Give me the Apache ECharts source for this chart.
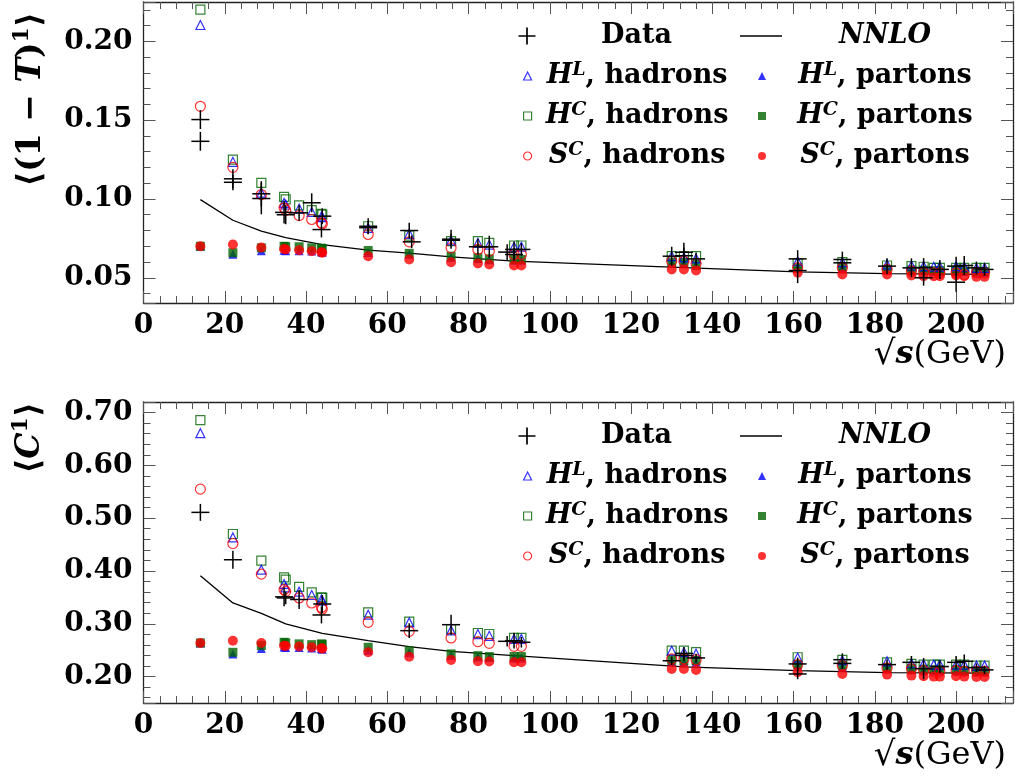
<!DOCTYPE html>
<html><head><meta charset="utf-8">
<script src="https://cdn.jsdelivr.net/npm/echarts@6/dist/echarts.min.js"></script>
<style>html,body{margin:0;padding:0;background:#fff}#c{width:1015px;height:781px}</style>
</head><body><div id="c"></div>
<script>
// ---------- data ----------
const energies = [14, 22, 29, 34.6, 35, 38.3, 41.4, 43.8, 44, 55.3, 65.4, 75.7, 82.3, 85.1, 91.2, 93, 130, 133, 136, 161, 172, 183, 189, 192, 194.5, 196, 200, 202, 205, 207];

// <(1-T)^1>
const thrustHLhad = [.2104,.1236,.1040,.0975,.0965,.0939,.0918,.0890,.0885,.0817,.0779,.0737,.0722,.0711,.0697,.0697,.0637,.0630,.0623,.0605,.0600,.0585,.0578,.0574,.0570,.0570,.0574,.0570,.0563,.0563];
const thrustHChad = [.2201,.1250,.1102,.1014,.0997,.0960,.0929,.0905,.0901,.0827,.0768,.0732,.0732,.0722,.0705,.0705,.0637,.0637,.0637,.0591,.0599,.0578,.0574,.0570,.0563,.0563,.0563,.0563,.0563,.0563];
const thrustSChad = [.1588,.1201,.1028,.0944,.0929,.0895,.0870,.0849,.0843,.0775,.0728,.0690,.0680,.0669,.0648,.0648,.0605,.0605,.0590,.0563,.0563,.0553,.0542,.0532,.0532,.0532,.0532,.0520,.0532,.0532];
const thrustHLpar = [.0700,.0650,.0672,.0675,.0672,.0672,.0670,.0665,.0662,.0660,.0650,.0630,.0622,.0615,.0612,.0612,.0595,.0595,.0580,.0560,.0565,.0550,.0548,.0545,.0540,.0540,.0540,.0538,.0535,.0535];
const thrustHCpar = [.0700,.0659,.0690,.0700,.0698,.0697,.0690,.0688,.0684,.0673,.0655,.0637,.0627,.0620,.0616,.0616,.0599,.0599,.0580,.0563,.0570,.0553,.0550,.0548,.0545,.0545,.0545,.0542,.0540,.0540];
const thrustSCpar = [.0700,.0711,.0692,.0683,.0680,.0675,.0669,.0662,.0659,.0637,.0616,.0599,.0591,.0584,.0578,.0578,.0553,.0553,.0547,.0532,.0521,.0521,.0515,.0510,.0510,.0510,.0515,.0510,.0506,.0506];

// <C^1>
const cparHLhad = [.661,.4635,.4024,.3754,.369,.3608,.3545,.3463,.3440,.3172,.3027,.2875,.2805,.2773,.2713,.2713,.249,.2465,.2434,.236,.231,.229,.2253,.224,.2227,.2227,.2227,.2227,.2208,.2208];
const cparHChad = [.6856,.470,.4195,.3879,.3835,.370,.3595,.350,.349,.3217,.304,.290,.2826,.2807,.2732,.2732,.2492,.249,.2465,.2366,.2316,.227,.224,.2227,.2227,.2227,.2227,.2227,.2208,.2208];
const cparSChad = [.555,.452,.394,.3646,.3614,.3489,.3394,.331,.328,.3027,.2857,.2732,.2662,.263,.2574,.2574,.2335,.2335,.232,.2227,.2208,.2164,.2146,.2113,.210,.210,.2113,.210,.210,.210];
const cparHLpar = [.2637,.243,.253,.256,.255,.255,.254,.253,.252,.250,.245,.240,.237,.236,.235,.235,.228,.228,.227,.220,.218,.215,.213,.212,.211,.211,.211,.210,.209,.209];
const cparHCpar = [.2637,.246,.2586,.265,.264,.262,.2605,.262,.261,.2555,.249,.243,.2397,.238,.238,.238,.231,.2303,.2303,.223,.221,.217,.215,.214,.213,.213,.213,.212,.211,.211];
const cparSCpar = [.2637,.268,.2637,.2586,.258,.257,.2555,.2536,.253,.246,.2378,.2316,.229,.2286,.227,.227,.2146,.2146,.2127,.2081,.205,.2038,.2019,.2006,.200,.200,.2006,.200,.1994,.1994];

// measured data (value, error)
const thrustDataE = [14,14,22,22,29,29,34.6,35,38.3,41.4,43.8,44,55.3,55.3,65.4,66,75.7,75.7,82.3,85.1,89.5,91.2,91.2,93,130,133,133,136,161,161,172,172,183,189,192,192,196,200,200,202,205,207];
const thrustDataV = [.1504,.1366,.1128,.1106,.1033,.1003,.0915,.0900,.0912,.0976,.0806,.0891,.0827,.0818,.0800,.0728,.0745,.0738,.0697,.0697,.0663,.0680,.0648,.0680,.0637,.0662,.0640,.0620,.0620,.0546,.0616,.0595,.0574,.0563,.0565,.0500,.0553,.0574,.0472,.0578,.0563,.0553];
const thrustDataErr = [.006,.006,.006,.005,.008,.010,.007,.006,.005,.006,.005,.005,.005,.004,.005,.004,.006,.004,.005,.007,.005,.005,.004,.004,.006,.006,.005,.004,.0055,.008,.005,.004,.005,.006,.006,.005,.006,.006,.006,.006,.004,.004];

const cparDataE = [14,22,34.6,35,38.3,43.8,44,65.4,75.7,89.5,91.2,93,130,133,133,136,161,161,172,172,183,189,192,196,200,202,205,207];
const cparDataV = [.511,.4213,.351,.349,.346,.3167,.3375,.287,.2983,.2668,.268,.265,.230,.244,.240,.2354,.224,.205,.232,.225,.2227,.227,.215,.219,.227,.229,.217,.2127];
const cparDataErr = [.016,.017,.018,.012,.018,.016,.017,.014,.019,.010,.015,.010,.008,.012,.010,.008,.012,.010,.012,.010,.010,.012,.020,.012,.012,.013,.008,.008];

// NNLO prediction
const nnloE = [14,22,29,35,44,55.3,65.4,75.7,91.2,133,161,183,207];
const nnloThrust = [.0996,.0865,.0796,.0755,.0711,.0675,.0657,.0633,.0606,.0565,.0538,.0527,.0522];
const nnloCpar = [.391,.3394,.3198,.2997,.2820,.268,.2567,.2479,.2397,.2185,.2113,.2075,.2065];

// axis ranges / ticks
const xRange = [0, 214];
const xTickStep = 20;
const thrustRange = [0.034, 0.225];
const thrustTickStep = 0.05;
const cparRange = [0.15, 0.72];
const cparTickStep = 0.1;

// ---------- chart ----------
const FONT = 'DejaVu Serif';
const BLUE = '#0000ff', GREEN = '#006400', RED = '#ff0000';
const pairs = (xs, ys) => xs.map((x, i) => [x, ys[i]]);
const triples = (xs, ys, es) => xs.map((x, i) => [x, ys[i], es[i]]);

const gridTops = [2, 402];
const grids = gridTops.map(t => ({left: 143.5, top: t, width: 869.5, height: 301, outerBoundsMode: 'none'}));

const tickCol = '#555';
function xAxes(g) {
  const base = {
    type: 'value', gridIndex: g, min: xRange[0], max: xRange[1], interval: xTickStep,
    axisLine: {show: true, onZero: false, lineStyle: {color: '#222', width: 1.3}},
    axisTick: {show: true, inside: true, length: 12, lineStyle: {color: tickCol, width: 1}},
    minorTick: {show: true, splitNumber: 5, length: 7, lineStyle: {color: tickCol, width: 1}},
    splitLine: {show: false}, minorSplitLine: {show: false}
  };
  return [
    Object.assign({}, base, {position: 'bottom',
      axisLabel: {show: true, margin: 9, fontFamily: FONT, fontWeight: 'bold', fontSize: 28, color: '#000', showMaxLabel: false}}),
    Object.assign({}, base, {position: 'top', axisLabel: {show: false}})
  ];
}
function yAxes(g, range, step) {
  const base = {
    type: 'value', gridIndex: g, min: range[0], max: range[1], minInterval: step, maxInterval: step, splitNumber: 4,
    axisLine: {show: true, onZero: false, lineStyle: {color: '#222', width: 1.3}},
    axisTick: {show: true, inside: true, length: 12, lineStyle: {color: tickCol, width: 1}},
    minorTick: {show: true, splitNumber: 5, length: 7, lineStyle: {color: tickCol, width: 1}},
    splitLine: {show: false}, minorSplitLine: {show: false}
  };
  return [
    Object.assign({}, base, {position: 'left',
      axisLabel: {show: true, margin: 11, fontFamily: FONT, fontWeight: 'bold', fontSize: 28, color: '#000',
        showMinLabel: false, showMaxLabel: false, formatter: v => v.toFixed(2)}}),
    Object.assign({}, base, {position: 'right', axisLabel: {show: false}})
  ];
}

function crossRender(params, api) {
  const x = api.value(0), y = api.value(1), e = api.value(2);
  const c = api.coord([x, y]);
  const lo = api.coord([x, y - e]);
  const hi = api.coord([x, y + e]);
  const arm = 9;
  const st = {stroke: '#000', lineWidth: 1.5};
  return {type: 'group', children: [
    {type: 'line', shape: {x1: c[0] - arm, y1: c[1], x2: c[0] + arm, y2: c[1]}, style: st},
    {type: 'line', shape: {x1: c[0], y1: hi[1], x2: c[0], y2: lo[1]}, style: st}
  ]};
}

function panelSeries(ax, d) {
  const open = (name, sym, size, col, vals) => ({
    name, type: 'scatter', xAxisIndex: ax, yAxisIndex: ax, symbol: sym, symbolSize: size, symbolKeepAspect: true,
    itemStyle: {color: 'rgba(0,0,0,0)', borderColor: col, borderWidth: 1.2},
    data: pairs(energies, vals), z: 3
  });
  const full = (name, sym, size, col, vals) => ({
    name, type: 'scatter', xAxisIndex: ax, yAxisIndex: ax, symbol: sym, symbolSize: size, symbolKeepAspect: true,
    itemStyle: {color: col}, data: pairs(energies, vals), z: 2
  });
  return [
    {name: 'NNLO', type: 'line', xAxisIndex: ax, yAxisIndex: ax, data: pairs(nnloE, d.nnlo),
      symbol: 'none', showSymbol: false, lineStyle: {color: '#000', width: 1.3}, itemStyle: {color: '#000'}, z: 1},
    full('HL_par', 'triangle', 9, BLUE, d.HLpar),
    full('HC_par', 'rect', 9, GREEN, d.HCpar),
    full('SC_par', 'circle', 10, RED, d.SCpar),
    open('HC_had', 'rect', 9, GREEN, d.HChad),
    open('HL_had', 'triangle', 9, BLUE, d.HLhad),
    open('SC_had', 'circle', 10, RED, d.SChad),
    {name: 'Data', type: 'custom', xAxisIndex: ax, yAxisIndex: ax, renderItem: crossRender,
      itemStyle: {color: '#000'}, encode: {x: 0, y: 1}, data: triples(d.dataE, d.dataV, d.dataErr), z: 4}
  ];
}

const labelMap = {
  'Data': '{b|Data}',
  'NNLO': '{bi|NNLO}',
  'HL_had': '{bi|H}{sup|L}{b|, hadrons}',
  'HC_had': '{bi|H}{sup|C}{b|, hadrons}',
  'SC_had': '{bi|S}{sup|C}{b|, hadrons}',
  'HL_par': '{bi|H}{sup|L}{b|, partons}',
  'HC_par': '{bi|H}{sup|C}{b|, partons}',
  'SC_par': '{bi|S}{sup|C}{b|, partons}'
};
const rich = {
  b: {fontFamily: FONT, fontWeight: 'bold', fontSize: 27, lineHeight: 30, align: 'center', color: '#000'},
  bi: {fontFamily: FONT, fontWeight: 'bold', fontStyle: 'italic', fontSize: 27, lineHeight: 30, align: 'center', color: '#000'},
  sup: {fontFamily: FONT, fontWeight: 'bold', fontStyle: 'italic', fontSize: 19, lineHeight: 10, verticalAlign: 'top', align: 'center', color: '#000'}
};
function legend(left, topPos, names, iw, ih, tw) {
  return {
    left, top: topPos, orient: 'vertical', padding: 0, itemGap: 10, itemWidth: iw, itemHeight: ih,
    selectedMode: false, data: names, symbolKeepAspect: true,
    itemStyle: {borderWidth: 1.2},
    formatter: n => labelMap[n],
    textStyle: {width: tw, lineHeight: 30, fontFamily: FONT, fontSize: 27, color: '#000', rich}
  };
}
const plusIcon = 'path://M4.5,0H5.5V4.5H10V5.5H5.5V10H4.5V5.5H0V4.5H4.5Z';
const lineIcon = 'path://M0,0H42V1.3H0Z';
function panelLegends(dy) {
  return [
    legend(518.5, 21 + dy, [{name: 'Data', icon: plusIcon}], 17, 17, 192),
    legend(523, 61 + dy, ['HL_had', 'HC_had', 'SC_had'], 8, 8, 201),
    legend(740, 21 + dy, [{name: 'NNLO', icon: lineIcon}], 42, 8, 196),
    legend(758, 61 + dy, ['HL_par', 'HC_par', 'SC_par'], 8, 8, 228)
  ];
}

const nameRich = {
  b: {fontFamily: FONT, fontWeight: 'bold', fontSize: 33, lineHeight: 40, color: '#000'},
  bi: {fontFamily: FONT, fontWeight: 'bold', fontStyle: 'italic', fontSize: 33, lineHeight: 40, color: '#000'},
  sup: {fontFamily: FONT, fontWeight: 'bold', fontSize: 22, lineHeight: 16, verticalAlign: 'top', color: '#000'},
  sq: {fontFamily: FONT, fontSize: 34, lineHeight: 40, color: '#000'},
  s: {fontFamily: FONT, fontWeight: 'bold', fontStyle: 'italic', fontSize: 32, lineHeight: 40, color: '#000'},
  r: {fontFamily: FONT, fontSize: 32, lineHeight: 40, color: '#000'}
};
const graphics = [
  {type: 'text', x: 31, y: 12, rotation: Math.PI / 2,
    style: {text: '{b|⟨(1 − }{bi|T}{b|)}{sup|1}{b|⟩}', rich: nameRich, align: 'right', verticalAlign: 'middle'}},
  {type: 'text', x: 30, y: 402, rotation: Math.PI / 2,
    style: {text: '{b|⟨}{bi|C}{sup|1}{b|⟩}', rich: nameRich, align: 'right', verticalAlign: 'middle'}},
  {type: 'text', x: 1006, y: 355,
    style: {text: '{sq|√}{s|s}{r|(GeV)}', rich: nameRich, align: 'right', verticalAlign: 'middle'}},
  {type: 'text', x: 1006, y: 756,
    style: {text: '{sq|√}{s|s}{r|(GeV)}', rich: nameRich, align: 'right', verticalAlign: 'middle'}}
];

const thrustPanel = {nnlo: nnloThrust, HLhad: thrustHLhad, HChad: thrustHChad, SChad: thrustSChad,
  HLpar: thrustHLpar, HCpar: thrustHCpar, SCpar: thrustSCpar,
  dataE: thrustDataE, dataV: thrustDataV, dataErr: thrustDataErr};
const cparPanel = {nnlo: nnloCpar, HLhad: cparHLhad, HChad: cparHChad, SChad: cparSChad,
  HLpar: cparHLpar, HCpar: cparHCpar, SCpar: cparSCpar,
  dataE: cparDataE, dataV: cparDataV, dataErr: cparDataErr};

const option = {
  animation: false,
  backgroundColor: '#fff',
  grid: grids,
  xAxis: [...xAxes(0), ...xAxes(1)],
  yAxis: [...yAxes(0, thrustRange, thrustTickStep), ...yAxes(1, cparRange, cparTickStep)],
  legend: [...panelLegends(0), ...panelLegends(400)],
  graphic: graphics,
  series: [...panelSeries(0, thrustPanel), ...panelSeries(2, cparPanel)]
};
const chart = echarts.init(document.getElementById('c'), null, {renderer: 'canvas'});
chart.setOption(option);
</script></body></html>
